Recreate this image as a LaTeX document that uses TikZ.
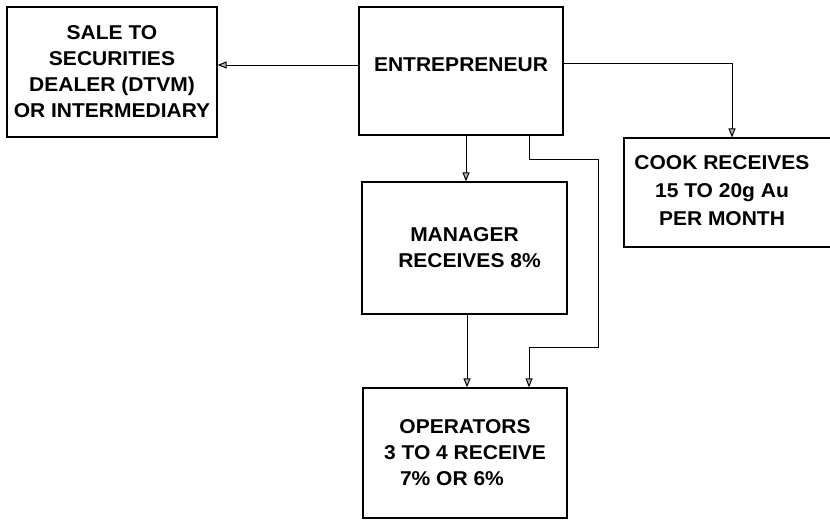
\documentclass[tikz,border=0pt]{standalone}
\usepackage{fontspec}
\setmainfont{Liberation Sans}[FakeStretch=1.05]
\usetikzlibrary{arrows.meta}
\begin{document}
\begin{tikzpicture}[x=1pt,y=-1pt,
  box/.style={draw=black, line width=1.2pt, rectangle, inner sep=0pt, align=center,
    font=\fontsize{20}{26}\selectfont\bfseries},
  txt/.style={inner sep=0pt, align=center, font=\fontsize{20}{28}\selectfont\bfseries},
  conn/.style={draw=black, line width=0.9pt,
    -{Triangle[length=9pt,width=7pt,fill=gray!55,line width=1pt]}}]
\clip (0,0) rectangle (830,521);
\useasboundingbox (0,0) rectangle (830,521);

% boxes
\node[box, minimum width=210pt, minimum height=130pt] (sale) at (112,72)
  {SALE TO\\SECURITIES\\DEALER (DTVM)\\OR INTERMEDIARY};
\node[box, minimum width=204pt, minimum height=128pt, text depth=13pt] (ent) at (461,71)
  {ENTREPRENEUR};
\node[box, minimum width=205pt, minimum height=132pt] (man) at (464.5,248)
  {MANAGER\\RECEIVES 8\%\hspace*{-10pt}};
\node[box, minimum width=204pt, minimum height=130pt] (ops) at (465,453)
  {OPERATORS\\3 TO 4 RECEIVE\\7\% OR 6\%\hspace*{26pt}};
\node[box, minimum width=216pt, minimum height=109pt] (cook) at (732,192.5) {};
\node[txt] (cooktxt) at (722,191) {COOK RECEIVES\\15 TO 20g Au\\PER MONTH};

% helper coordinates
\coordinate (ysale) at (0,65);
\coordinate (ycook) at (0,63);
\coordinate (xman) at (466,0);
\coordinate (xops) at (467,0);
\coordinate (r1) at (598,159);
\coordinate (r2) at (529,347);

% connectors
\draw[conn] (ent.west |- ysale) -- (sale.east |- ysale);
\draw[conn] (ent.east |- ycook) -| (cook.north);
\draw[conn] (ent.south -| xman) -- (man.north -| xman);
\draw[conn] (man.south -| xops) -- (ops.north -| xops);
\draw[conn] (ent.south -| r2) |- (r1) |- (r2) -- (ops.north -| r2);
\end{tikzpicture}
\end{document}
